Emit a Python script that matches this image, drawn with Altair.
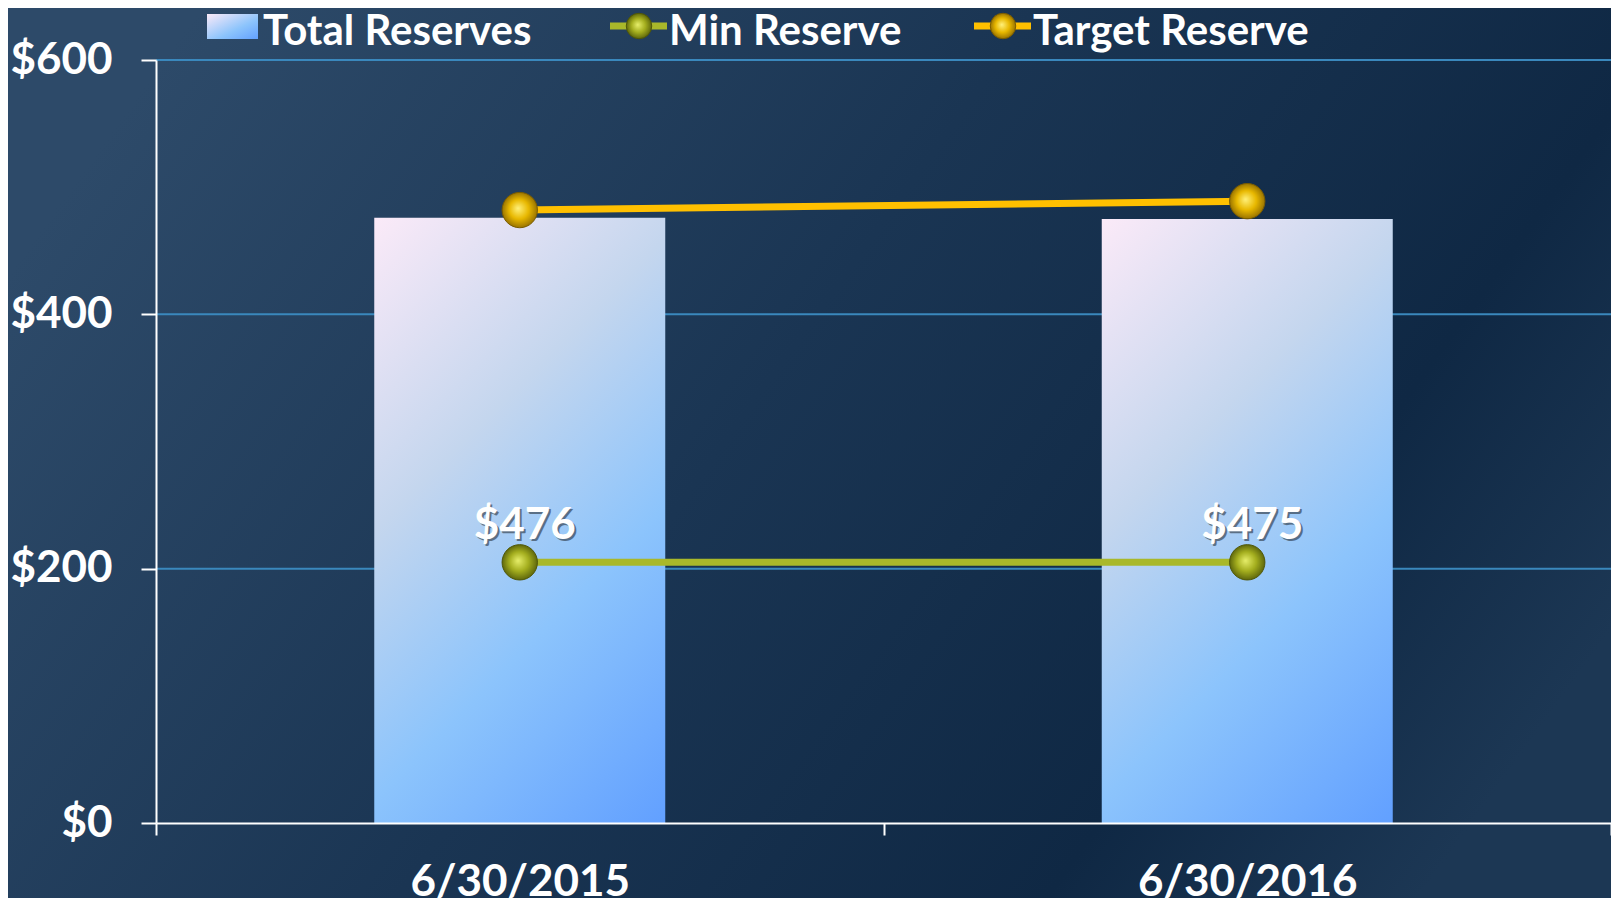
import altair as alt
import pandas as pd

# ---- data ----
dates = ["6/30/2015", "6/30/2016"]
total_reserves = [476, 475]
min_reserve = [205, 205]
target_reserve = [482, 489]
series_names = ["Total Reserves", "Min Reserve", "Target Reserve"]
y_ticks = [0, 200, 400, 600]
grid_values = [200, 400, 600]

df = pd.DataFrame({
    "date": dates,
    "total": total_reserves,
    "min": min_reserve,
    "target": target_reserve,
})
df["label"] = ["$" + str(v) for v in total_reserves]
grid_df = pd.DataFrame({"v": grid_values})
one = pd.DataFrame({"k": [0]})

W, H = 1455, 763
FONT = "Lato"
GREEN = "#a9b82a"
GOLD = "#ffc000"

bar_fill = alt.LinearGradient(
    gradient="linear",
    stops=[
        alt.GradientStop(color="#fbeaf8", offset=0),
        alt.GradientStop(color="#c4d6ee", offset=0.35),
        alt.GradientStop(color="#8cc4fc", offset=0.65),
        alt.GradientStop(color="#62a0ff", offset=1),
    ],
    x1=0, y1=0, x2=0.58, y2=1.2,
)
swatch_fill = alt.LinearGradient(
    gradient="linear",
    stops=[
        alt.GradientStop(color="#fbeaf8", offset=0),
        alt.GradientStop(color="#8cc4fc", offset=0.6),
        alt.GradientStop(color="#62a0ff", offset=1),
    ],
    x1=0, y1=0, x2=1, y2=1,
)
gold_pt = alt.RadialGradient(
    gradient="radial",
    stops=[alt.GradientStop(color="#fff07a", offset=0),
           alt.GradientStop(color="#e8b800", offset=0.55),
           alt.GradientStop(color="#9a7400", offset=1)],
    x1=0.45, y1=0.45, r1=0, x2=0.5, y2=0.5, r2=0.5,
)
green_pt = alt.RadialGradient(
    gradient="radial",
    stops=[alt.GradientStop(color="#e6ee6a", offset=0),
           alt.GradientStop(color="#a4ae1e", offset=0.55),
           alt.GradientStop(color="#5f680c", offset=1)],
    x1=0.45, y1=0.45, r1=0, x2=0.5, y2=0.5, r2=0.5,
)
bg_fill = alt.LinearGradient(
    gradient="linear",
    stops=[alt.GradientStop(color="#2d4a69", offset=0),
           alt.GradientStop(color="#1a3553", offset=0.45),
           alt.GradientStop(color="#0f2844", offset=0.8),
           alt.GradientStop(color="#1c3754", offset=1)],
    x1=0, y1=0.3, x2=1, y2=0.7,
)

x_scale = alt.Scale(paddingInner=0, paddingOuter=0)
x_axis = alt.Axis(
    labelAngle=0, labelFontSize=44, labelFont=FONT, labelFontWeight="bold",
    labelColor="white", labelLimit=600, tickBand="extent", tickSize=12,
    tickColor="white", tickWidth=2, domainColor="white", domainWidth=2,
    labelPadding=25, grid=False, zindex=2,
)
X = alt.X("date:N", sort=dates, title=None, scale=x_scale, axis=x_axis)

y_scale = alt.Scale(domain=[0, 600])
y_axis = alt.Axis(
    values=y_ticks, format="$,.0f", title=None,
    labelFontSize=44, labelFont=FONT, labelFontWeight="bold", labelColor="white",
    labelPadding=29, tickSize=15, tickColor="white", tickWidth=2,
    domainColor="white", domainWidth=2, grid=False, zindex=2,
)

background = alt.Chart(one).mark_rect(fill=bg_fill).encode(
    x=alt.value(-148), x2=alt.value(W), y=alt.value(-52), y2=alt.value(H + 75)
)

grid = alt.Chart(grid_df).mark_rule(color="#3a88bd", strokeWidth=2).encode(
    y=alt.Y("v:Q", scale=y_scale, axis=y_axis)
)

bars = alt.Chart(df).mark_bar(
    fill=bar_fill, width=alt.RelativeBandSize(0.4)
).encode(
    x=X,
    y=alt.Y("total:Q", scale=y_scale, axis=y_axis),
)

target_line = alt.Chart(df).mark_line(color=GOLD, strokeWidth=7).encode(
    x=X, y=alt.Y("target:Q", scale=y_scale, axis=y_axis)
)
target_pts = alt.Chart(df).mark_point(
    filled=True, fill=gold_pt, stroke="#7a5c00", strokeWidth=1, size=1250, opacity=1
).encode(x=X, y=alt.Y("target:Q", scale=y_scale, axis=y_axis))

min_line = alt.Chart(df).mark_line(color=GREEN, strokeWidth=7).encode(
    x=X, y=alt.Y("min:Q", scale=y_scale, axis=y_axis)
)
min_pts = alt.Chart(df).mark_point(
    filled=True, fill=green_pt, stroke="#4f5708", strokeWidth=1, size=1250, opacity=1
).encode(x=X, y=alt.Y("min:Q", scale=y_scale, axis=y_axis))

label_shadow = alt.Chart(df).mark_text(
    font=FONT, fontSize=44, fontWeight="bold", color="black", opacity=0.45,
    dx=7, dy=-34, baseline="middle",
).encode(x=X, y=alt.Y("min:Q", scale=y_scale, axis=y_axis), text="label:N")
labels = alt.Chart(df).mark_text(
    font=FONT, fontSize=44, fontWeight="bold", color="white",
    dx=5, dy=-36, baseline="middle",
).encode(x=X, y=alt.Y("min:Q", scale=y_scale, axis=y_axis), text="label:N")

# ---- legend (top) ----
LY = -28
LFS = 42
leg_total_sw = alt.Chart(one).mark_rect(fill=swatch_fill).encode(
    x=alt.value(51), x2=alt.value(102), y=alt.value(-46), y2=alt.value(-21)
)
leg_total_tx = alt.Chart(one).mark_text(
    font=FONT, fontSize=LFS, fontWeight="bold", color="white", align="left", baseline="middle"
).encode(x=alt.value(107), y=alt.value(LY), text=alt.value(series_names[0]))

leg_min_ln = alt.Chart(one).mark_rule(color=GREEN, strokeWidth=7).encode(
    x=alt.value(454), x2=alt.value(511), y=alt.value(-34)
)
leg_min_pt = alt.Chart(one).mark_point(
    filled=True, fill=green_pt, stroke="#4f5708", strokeWidth=1, size=650, opacity=1
).encode(x=alt.value(483), y=alt.value(-34))
leg_min_tx = alt.Chart(one).mark_text(
    font=FONT, fontSize=LFS, fontWeight="bold", color="white", align="left", baseline="middle"
).encode(x=alt.value(513), y=alt.value(LY), text=alt.value(series_names[1]))

leg_tgt_ln = alt.Chart(one).mark_rule(color=GOLD, strokeWidth=7).encode(
    x=alt.value(818), x2=alt.value(875), y=alt.value(-34)
)
leg_tgt_pt = alt.Chart(one).mark_point(
    filled=True, fill=gold_pt, stroke="#7a5c00", strokeWidth=1, size=650, opacity=1
).encode(x=alt.value(847), y=alt.value(-34))
leg_tgt_tx = alt.Chart(one).mark_text(
    font=FONT, fontSize=LFS, fontWeight="bold", color="white", align="left", baseline="middle"
).encode(x=alt.value(877), y=alt.value(LY), text=alt.value(series_names[2]))

chart = alt.layer(
    background, grid, bars, target_line, min_line, target_pts, min_pts,
    label_shadow, labels,
    leg_total_sw, leg_total_tx, leg_min_ln, leg_min_pt, leg_min_tx,
    leg_tgt_ln, leg_tgt_pt, leg_tgt_tx,
).properties(
    width=W, height=H,
    padding={"left": 148, "top": 52, "right": 0, "bottom": 75},
    autosize=alt.AutoSizeParams(type="none"),
).configure(
    background="#1d3654",
).configure_view(stroke=None)

chart.save("out.html", embed_options={"renderer": "svg", "actions": False})
